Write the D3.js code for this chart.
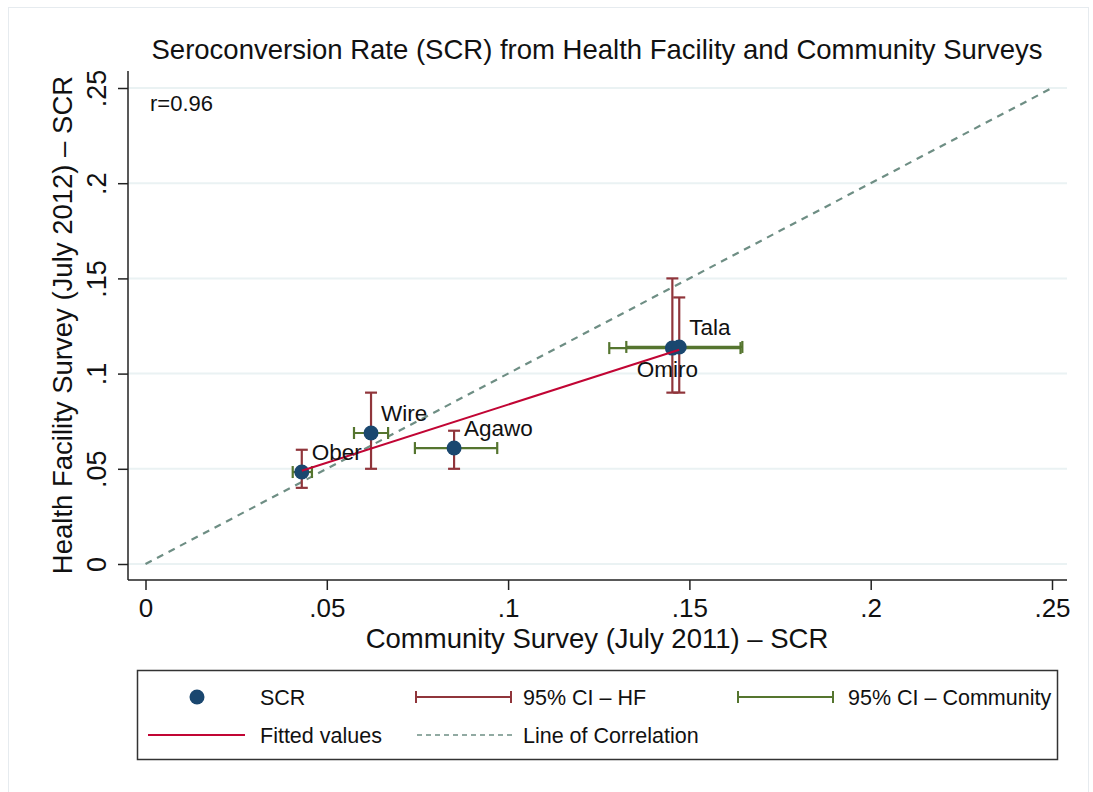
<!DOCTYPE html>
<html>
<head>
<meta charset="utf-8">
<script src="https://cdn.jsdelivr.net/npm/d3@7"></script>
<style>
  body { margin: 0; background: #fff; }
  text { font-family: "Liberation Sans", Arial, Helvetica, sans-serif; fill: #111; }
</style>
</head>
<body>
<script>
// data
var sites    = ["Ober", "Wire", "Agawo", "Omiro", "Tala"];
var commSCR  = [0.0431, 0.0622, 0.0851, 0.1453, 0.1472];
var hfSCR    = [0.0483, 0.0688, 0.0609, 0.1134, 0.1140];
var hfLow    = [0.040, 0.050, 0.050, 0.090, 0.090];
var hfHigh   = [0.060, 0.090, 0.070, 0.150, 0.140];
var commLow  = [0.0406, 0.0575, 0.0743, 0.1279, 0.1326];
var commHigh = [0.0459, 0.0669, 0.0970, 0.1641, 0.1646];
var labelPos = ["ne", "ne", "ne", "s", "ne"];
var fittedX  = [0.0431, 0.1472];
var fittedY  = [0.0490, 0.1125];
var corrLine = [0, 0.25];
var tickVals = [0, 0.05, 0.1, 0.15, 0.2, 0.25];
var tickText = ["0", ".05", ".1", ".15", ".2", ".25"];

var navy = "#1a476f", maroon = "#90353b", green = "#55752f",
    cranberry = "#c10534", teal = "#6e8e84", grid = "#eaf2f3";

var width = 1093, height = 792;
var svg = d3.select("body").append("svg")
    .attr("width", width)
    .attr("height", height);

// faint outer frame
svg.append("rect")
    .attr("x", 8.5).attr("y", 7.5)
    .attr("width", 1080).attr("height", 800)
    .attr("fill", "none").attr("stroke", "#e6ebef");

// plot box edges (plotTop: "top" is taken by window.top)
var plotLeft = 128, plotRight = 1067, plotTop = 71, plotBottom = 580;

var x = d3.scaleLinear().domain([0, 0.25]).range([145.5, 1052]);
var y = d3.scaleLinear().domain([0, 0.25]).range([564, 88]);

// title
svg.append("text")
    .attr("x", 597).attr("y", 59)
    .attr("text-anchor", "middle")
    .style("font-size", "27.5px")
    .text("Seroconversion Rate (SCR) from Health Facility and Community Surveys");

// gridlines
svg.selectAll(".grid")
    .data(tickVals)
    .enter()
    .append("line")
    .attr("class", "grid")
    .attr("x1", plotLeft).attr("x2", plotRight)
    .attr("y1", function(d){ return y(d); })
    .attr("y2", function(d){ return y(d); })
    .attr("stroke", grid).attr("stroke-width", 2);

// y axis
var yAxis = svg.append("g")
    .attr("transform", "translate(" + plotLeft + ",0)")
    .call(d3.axisLeft(y).tickValues(tickVals)
        .tickFormat(function(d, i){ return tickText[i]; })
        .tickSize(10).tickSizeOuter(0));
yAxis.select(".domain").remove();
yAxis.append("line")
    .attr("x1", 0).attr("x2", 0).attr("y1", plotTop).attr("y2", plotBottom)
    .attr("stroke", "#222").attr("stroke-width", 1.5);
yAxis.selectAll(".tick line").attr("stroke", "#222").attr("stroke-width", 1.5);
yAxis.selectAll(".tick text")
    .attr("x", null).attr("dy", null)
    .attr("transform", "translate(-22,0) rotate(-90)")
    .attr("text-anchor", "middle")
    .attr("fill", "#111")
    .style("font-size", "27px");

// x axis
var xAxis = svg.append("g")
    .attr("transform", "translate(0," + plotBottom + ")")
    .call(d3.axisBottom(x).tickValues(tickVals)
        .tickFormat(function(d, i){ return tickText[i]; })
        .tickSize(10).tickSizeOuter(0));
xAxis.select(".domain").remove();
xAxis.append("line")
    .attr("x1", plotLeft).attr("x2", plotRight).attr("y1", 0).attr("y2", 0)
    .attr("stroke", "#222").attr("stroke-width", 1.5);
xAxis.selectAll(".tick line").attr("stroke", "#222").attr("stroke-width", 1.5);
xAxis.selectAll(".tick text")
    .attr("y", 37).attr("dy", null)
    .attr("fill", "#111")
    .style("font-size", "26px");

// axis titles
svg.append("text")
    .attr("x", 597).attr("y", 648)
    .attr("text-anchor", "middle")
    .style("font-size", "27.5px")
    .text("Community Survey (July 2011) \u2013 SCR");
svg.append("text")
    .attr("transform", "translate(72,325) rotate(-90)")
    .attr("text-anchor", "middle")
    .style("font-size", "27.5px")
    .text("Health Facility Survey (July 2012) \u2013 SCR");

// r annotation
svg.append("text")
    .attr("x", 150).attr("y", 111)
    .style("font-size", "22px")
    .text("r=0.96");

// line of correlation
svg.append("line")
    .attr("x1", x(corrLine[0])).attr("y1", y(corrLine[0]))
    .attr("x2", x(corrLine[1])).attr("y2", y(corrLine[1]))
    .attr("stroke", teal).attr("stroke-width", 2.2)
    .attr("stroke-dasharray", "7,6");

var idx = d3.range(sites.length);
var cap = 6;

// HF CIs (vertical)
var hf = svg.selectAll(".hfci").data(idx).enter().append("g").attr("class", "hfci")
    .attr("stroke", maroon).attr("stroke-width", 2.2).attr("fill", "none");
hf.append("line")
    .attr("x1", function(i){ return x(commSCR[i]); })
    .attr("x2", function(i){ return x(commSCR[i]); })
    .attr("y1", function(i){ return y(hfLow[i]); })
    .attr("y2", function(i){ return y(hfHigh[i]); });
hf.append("line")
    .attr("x1", function(i){ return x(commSCR[i]) - cap; })
    .attr("x2", function(i){ return x(commSCR[i]) + cap; })
    .attr("y1", function(i){ return y(hfLow[i]); })
    .attr("y2", function(i){ return y(hfLow[i]); });
hf.append("line")
    .attr("x1", function(i){ return x(commSCR[i]) - cap; })
    .attr("x2", function(i){ return x(commSCR[i]) + cap; })
    .attr("y1", function(i){ return y(hfHigh[i]); })
    .attr("y2", function(i){ return y(hfHigh[i]); });

// Community CIs (horizontal)
var cc = svg.selectAll(".cci").data(idx).enter().append("g").attr("class", "cci")
    .attr("stroke", green).attr("stroke-width", 2.2).attr("fill", "none");
cc.append("line")
    .attr("x1", function(i){ return x(commLow[i]); })
    .attr("x2", function(i){ return x(commHigh[i]); })
    .attr("y1", function(i){ return y(hfSCR[i]); })
    .attr("y2", function(i){ return y(hfSCR[i]); });
cc.append("line")
    .attr("x1", function(i){ return x(commLow[i]); })
    .attr("x2", function(i){ return x(commLow[i]); })
    .attr("y1", function(i){ return y(hfSCR[i]) - cap; })
    .attr("y2", function(i){ return y(hfSCR[i]) + cap; });
cc.append("line")
    .attr("x1", function(i){ return x(commHigh[i]); })
    .attr("x2", function(i){ return x(commHigh[i]); })
    .attr("y1", function(i){ return y(hfSCR[i]) - cap; })
    .attr("y2", function(i){ return y(hfSCR[i]) + cap; });

// points
svg.selectAll(".pt").data(idx).enter().append("circle")
    .attr("class", "pt")
    .attr("cx", function(i){ return x(commSCR[i]); })
    .attr("cy", function(i){ return y(hfSCR[i]); })
    .attr("r", 7.5)
    .attr("fill", navy);

// fitted values
svg.append("line")
    .attr("x1", x(fittedX[0])).attr("y1", y(fittedY[0]))
    .attr("x2", x(fittedX[1])).attr("y2", y(fittedY[1]))
    .attr("stroke", cranberry).attr("stroke-width", 2);

// point labels
svg.selectAll(".lbl").data(idx).enter().append("text")
    .attr("class", "lbl")
    .attr("x", function(i){ return labelPos[i] == "s" ? x(commSCR[i]) - 5 : x(commSCR[i]) + 10; })
    .attr("y", function(i){ return labelPos[i] == "s" ? y(hfSCR[i]) + 29 : y(hfSCR[i]) - 12; })
    .attr("text-anchor", function(i){ return labelPos[i] == "s" ? "middle" : "start"; })
    .style("font-size", "22.5px")
    .text(function(i){ return sites[i]; });

// legend
var lg = svg.append("g");
lg.append("rect")
    .attr("x", 137.5).attr("y", 670.5).attr("width", 920).attr("height", 89)
    .attr("fill", "#fff").attr("stroke", "#333").attr("stroke-width", 1.5);

var row1 = 697, row2 = 735;
lg.append("circle").attr("cx", 197).attr("cy", row1).attr("r", 7.5).attr("fill", navy);

function legendCI(x0, x1, yy, col){
    lg.append("line").attr("x1", x0).attr("x2", x1).attr("y1", yy).attr("y2", yy)
        .attr("stroke", col).attr("stroke-width", 2);
    [x0, x1].forEach(function(xx){
        lg.append("line").attr("x1", xx).attr("x2", xx).attr("y1", yy - 6).attr("y2", yy + 6)
            .attr("stroke", col).attr("stroke-width", 2);
    });
}
legendCI(416, 511, row1, maroon);
legendCI(738, 833, row1, green);

lg.append("line").attr("x1", 148).attr("x2", 245).attr("y1", row2).attr("y2", row2)
    .attr("stroke", cranberry).attr("stroke-width", 2);
lg.append("line").attr("x1", 417).attr("x2", 512).attr("y1", row2).attr("y2", row2)
    .attr("stroke", teal).attr("stroke-width", 1.6).attr("stroke-dasharray", "5,4");

var legendText = [
    {t: "SCR", x: 260, y: row1},
    {t: "95% CI \u2013 HF", x: 523, y: row1},
    {t: "95% CI \u2013 Community", x: 848, y: row1},
    {t: "Fitted values", x: 260, y: row2},
    {t: "Line of Correlation", x: 523, y: row2}
];
lg.selectAll(".lt").data(legendText).enter().append("text")
    .attr("class", "lt")
    .attr("x", function(d){ return d.x; })
    .attr("y", function(d){ return d.y + 8; })
    .style("font-size", "21.5px")
    .text(function(d){ return d.t; });
</script>
</body>
</html>
